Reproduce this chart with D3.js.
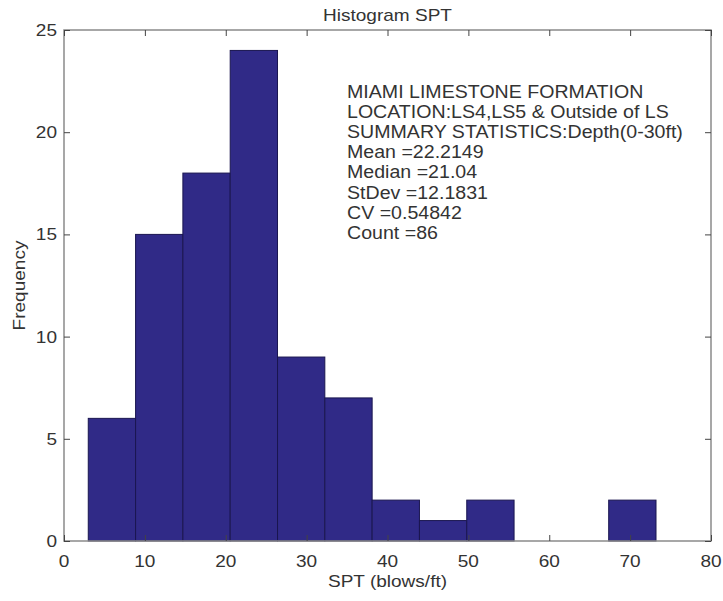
<!DOCTYPE html>
<html><head><meta charset="utf-8">
<script src="https://cdn.jsdelivr.net/npm/d3@7"></script>
<style>body{margin:0;background:#fff}svg{display:block}</style>
</head><body>
<script>
const binEdges = [3.0, 8.85, 14.7, 20.55, 26.4, 32.25, 38.1, 43.95, 49.8, 55.65, 61.5, 67.35, 73.2];
const counts = [6, 15, 18, 24, 9, 7, 2, 1, 2, 0, 0, 2];
const xTicks = [0, 10, 20, 30, 40, 50, 60, 70, 80];
const yTicks = [0, 5, 10, 15, 20, 25];
const titleText = "Histogram SPT";
const xLabel = "SPT (blows/ft)";
const yLabel = "Frequency";
const noteLines = ["MIAMI LIMESTONE FORMATION", "LOCATION:LS4,LS5 & Outside of LS",
  "SUMMARY STATISTICS:Depth(0-30ft)", "Mean =22.2149", "Median =21.04",
  "StDev =12.1831", "CV =0.54842", "Count =86"];

const W = 723, H = 601;
const L = 64, R = 711, T = 30, B = 541;
const FS = 17, SX = 1.12, TXT = "#333";
const svg = d3.select("body").append("svg").attr("width", W).attr("height", H);
const x = d3.scaleLinear().domain([0, 80]).range([L, R]);
const y = d3.scaleLinear().domain([0, 25]).range([B, T]);

const bins = counts.map((c, i) => ({x0: binEdges[i], x1: binEdges[i + 1], c}));
svg.append("g").selectAll("rect").data(bins.filter(d => d.c > 0)).join("rect")
  .attr("x", d => x(d.x0)).attr("y", d => y(d.c))
  .attr("width", d => x(d.x1) - x(d.x0)).attr("height", d => y(0) - y(d.c))
  .attr("fill", "#302a87").attr("stroke", "#1a1650").attr("stroke-width", 1);

// frame
svg.append("rect").attr("x", L).attr("y", T).attr("width", R - L).attr("height", B - T)
  .attr("fill", "none").attr("stroke", "#8a8a8a").attr("stroke-width", 1.5);

const tk = 6;
const axB = svg.append("g").attr("transform", `translate(0,${B})`)
  .call(d3.axisBottom(x).tickValues(xTicks).tickSize(-tk).tickFormat(""));
const axT = svg.append("g").attr("transform", `translate(0,${T})`)
  .call(d3.axisTop(x).tickValues(xTicks).tickSize(-tk).tickFormat(""));
const axL = svg.append("g").attr("transform", `translate(${L},0)`)
  .call(d3.axisLeft(y).tickValues(yTicks).tickSize(-tk).tickFormat(""));
const axR = svg.append("g").attr("transform", `translate(${R},0)`)
  .call(d3.axisRight(y).tickValues(yTicks).tickSize(-tk).tickFormat(""));
[axB, axT, axL, axR].forEach(a => {
  a.select(".domain").remove();
  a.selectAll(".tick line").attr("stroke", "#444").attr("stroke-width", 1);
});

function txt(str, px, py, anchor, rot, fs) {
  return svg.append("text")
    .attr("transform", `translate(${px},${py})${rot ? " rotate(" + rot + ")" : ""} scale(${SX},1)`)
    .attr("text-anchor", anchor || "start")
    .attr("font-family", "Liberation Sans, Arial, sans-serif")
    .attr("font-size", fs || FS).attr("fill", TXT).text(str);
}

xTicks.forEach(v => txt(String(v), x(v), 567, "middle"));
yTicks.forEach(v => txt(String(v), 57, y(v) + 6, "end"));
txt(titleText, (L + R) / 2, 21, "middle");
txt(xLabel, (L + R) / 2, 587, "middle");
txt(yLabel, 25, (T + B) / 2, "middle", -90);
noteLines.forEach((s, i) => txt(s, 347, 97.5 + i * 20.2, "start", 0, 17.5));
</script>
</body></html>
